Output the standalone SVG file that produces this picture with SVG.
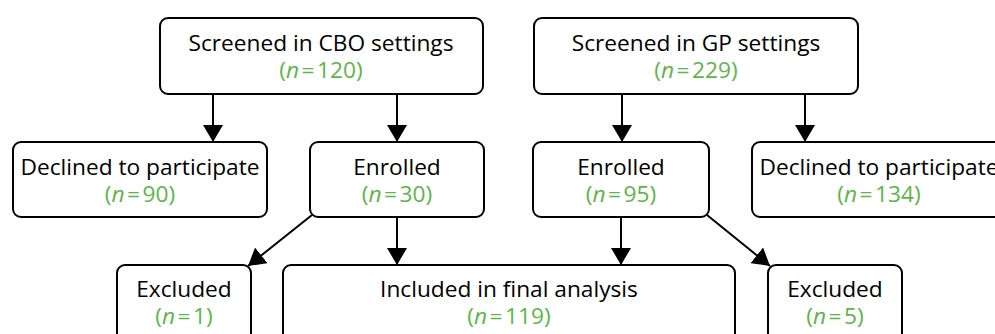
<svg xmlns="http://www.w3.org/2000/svg" width="995" height="334" viewBox="0 0 995 334">
<style>
.box{fill:#fff;stroke:#000;stroke-width:2}
.t{font-family:"Open Sans","Liberation Sans",sans-serif;font-size:22.7px;fill:#000;text-anchor:middle}
.n{fill:#5db54a}
.i{font-style:italic}
.c{stroke:#000;stroke-width:2;fill:none}
</style>
<defs>
<marker id="ah" markerUnits="userSpaceOnUse" markerWidth="18" markerHeight="20" refX="17" refY="10" orient="auto">
<path d="M0,0 L17,10 L0,20 z" fill="#000"/>
</marker>
</defs>
<g id="connectors">
<line class="c" x1="213" y1="94" x2="213" y2="142" marker-end="url(#ah)"/>
<line class="c" x1="397" y1="94" x2="397" y2="142" marker-end="url(#ah)"/>
<line class="c" x1="622" y1="94" x2="622" y2="142" marker-end="url(#ah)"/>
<line class="c" x1="805" y1="94" x2="805" y2="142" marker-end="url(#ah)"/>
<line class="c" x1="397" y1="217" x2="397" y2="265" marker-end="url(#ah)"/>
<line class="c" x1="621" y1="217" x2="621" y2="265" marker-end="url(#ah)"/>
<line class="c" x1="312" y1="215" x2="248" y2="266" marker-end="url(#ah)"/>
<line class="c" x1="707" y1="215" x2="770" y2="266" marker-end="url(#ah)"/>
</g>
<g id="screened-cbo">
<rect class="box" x="160" y="18" width="323" height="76" rx="8"/>
<text class="t" x="321" y="51">Screened in CBO settings</text>
<text class="t n" x="321" y="78">(<tspan class="i">n</tspan><tspan dx="2.5">=</tspan><tspan dx="2.5">120)</tspan></text>
</g>
<g id="screened-gp">
<rect class="box" x="534" y="18" width="324" height="76" rx="8"/>
<text class="t" x="696" y="51">Screened in GP settings</text>
<text class="t n" x="696" y="78">(<tspan class="i">n</tspan><tspan dx="2.5">=</tspan><tspan dx="2.5">229)</tspan></text>
</g>
<g id="declined-cbo">
<rect class="box" x="13" y="142" width="254" height="75" rx="8"/>
<text class="t" x="140" y="175">Declined to participate</text>
<text class="t n" x="140" y="202">(<tspan class="i">n</tspan><tspan dx="2.5">=</tspan><tspan dx="2.5">90)</tspan></text>
</g>
<g id="enrolled-cbo">
<rect class="box" x="310" y="142" width="174" height="75" rx="8"/>
<text class="t" x="397" y="175">Enrolled</text>
<text class="t n" x="397" y="202">(<tspan class="i">n</tspan><tspan dx="2.5">=</tspan><tspan dx="2.5">30)</tspan></text>
</g>
<g id="enrolled-gp">
<rect class="box" x="533" y="142" width="176" height="75" rx="8"/>
<text class="t" x="621" y="175">Enrolled</text>
<text class="t n" x="621" y="202">(<tspan class="i">n</tspan><tspan dx="2.5">=</tspan><tspan dx="2.5">95)</tspan></text>
</g>
<g id="declined-gp">
<rect class="box" x="752" y="142" width="254" height="75" rx="8"/>
<text class="t" x="879" y="175">Declined to participate</text>
<text class="t n" x="879" y="202">(<tspan class="i">n</tspan><tspan dx="2.5">=</tspan><tspan dx="2.5">134)</tspan></text>
</g>
<g id="excluded-cbo">
<rect class="box" x="117" y="265" width="134" height="80" rx="8"/>
<text class="t" x="184" y="297">Excluded</text>
<text class="t n" x="184" y="324">(<tspan class="i">n</tspan><tspan dx="2.5">=</tspan><tspan dx="2.5">1)</tspan></text>
</g>
<g id="included">
<rect class="box" x="283" y="265" width="452" height="80" rx="8"/>
<text class="t" x="509" y="297">Included in final analysis</text>
<text class="t n" x="509" y="324">(<tspan class="i">n</tspan><tspan dx="2.5">=</tspan><tspan dx="2.5">119)</tspan></text>
</g>
<g id="excluded-gp">
<rect class="box" x="768" y="265" width="134" height="80" rx="8"/>
<text class="t" x="835" y="297">Excluded</text>
<text class="t n" x="835" y="324">(<tspan class="i">n</tspan><tspan dx="2.5">=</tspan><tspan dx="2.5">5)</tspan></text>
</g>
</svg>
